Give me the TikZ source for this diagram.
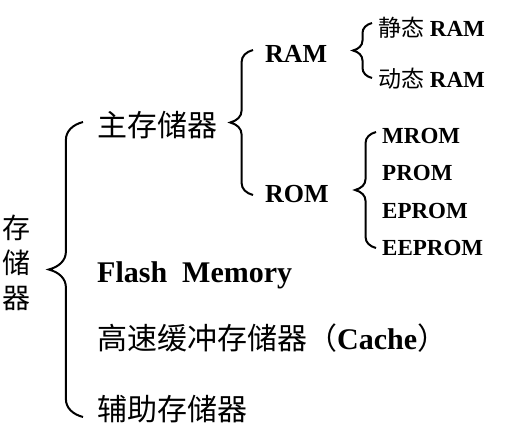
\documentclass[tikz,border=0pt]{standalone}
\usepackage{fontspec}
\setmainfont{Liberation Serif}
\newfontfamily\cjk{Noto Sans CJK SC}
\usetikzlibrary{decorations.pathreplacing}
\tikzset{brc/.style={decorate,line width=2pt,decoration={brace,amplitude=#1,transform={yscale=1.9}}}}
\tikzset{item/.style={inner sep=0pt,anchor=base west}}

\begin{document}
\begin{tikzpicture}[x=1pt,y=-1pt]
      \useasboundingbox (0,0) rectangle (505,429);

      \node [inner sep=0pt,align=center,font=\cjk\fontsize{28}{35}\selectfont] (mem) at (16,263) {存\\储\\器};

      \node [item,font=\cjk\fontsize{30}{36}\selectfont] (main) at (97,136) {主存储器};
      \node [item,font=\bfseries\fontsize{30}{36}\selectfont] (flash) at (97,282) {Flash\ \ Memory};
      \node [item,font=\fontsize{30}{36}\selectfont] (cache) at (97,349.5) {{\cjk 高速缓冲存储器（}\textbf{Cache}{\cjk ）}};
      \node [item,font=\cjk\fontsize{30}{36}\selectfont] (aux) at (97,420) {辅助存储器};

      \node [item,font=\bfseries\fontsize{26}{30}\selectfont] (ram) at (265,62) {RAM};
      \node [item,font=\bfseries\fontsize{26}{30}\selectfont] (rom) at (265,202.5) {ROM};

      \node [item,font=\fontsize{23}{27}\selectfont] (sram) at (378,36) {{\cjk 静态} \textbf{RAM}};
      \node [item,font=\fontsize{23}{27}\selectfont] (dram) at (378,87) {{\cjk 动态} \textbf{RAM}};

      \node [item,font=\bfseries\fontsize{23}{27}\selectfont] (mrom) at (382,143) {MROM};
      \node [item,font=\bfseries\fontsize{23}{27}\selectfont] (prom) at (382,180) {PROM};
      \node [item,font=\bfseries\fontsize{23}{27}\selectfont] (eprom) at (382,218) {EPROM};
      \node [item,font=\bfseries\fontsize{23}{27}\selectfont] (eeprom) at (382,255) {EEPROM};

      \draw [brc=18pt] ([shift={(-14,-3)}]aux.base west) -- ([shift={(-14,-14)}]main.base west);
      \draw [brc=12pt] ([shift={(-12,-7.5)}]rom.base west) -- ([shift={(-12,-12)}]ram.base west);
      \draw [brc=10pt] ([shift={(-6,-9)}]dram.base west) -- ([shift={(-6,-13)}]sram.base west);
      \draw [brc=11pt] ([shift={(-6,-7)}]eeprom.base west) -- ([shift={(-6,-11)}]mrom.base west);
    \end{tikzpicture}
\end{document}
